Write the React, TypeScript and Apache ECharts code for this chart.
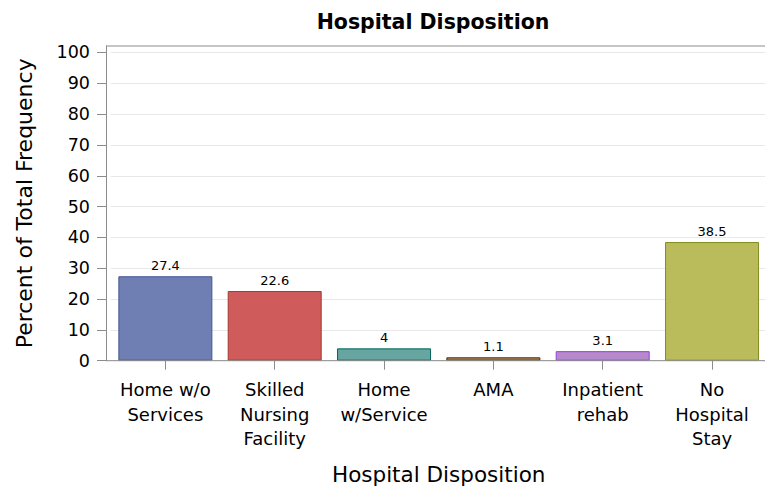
import React, { useEffect, useRef } from "react";
import * as echarts from "echarts";

const categories = [
  "Home w/o\nServices",
  "Skilled\nNursing\nFacility",
  "Home\nw/Service",
  "AMA",
  "Inpatient\nrehab",
  "No\nHospital\nStay",
];
const values = [27.4, 22.6, 4, 1.1, 3.1, 38.5];
const fills = ["#6F7EB3", "#D05B5B", "#66A5A0", "#A9865B", "#B689CD", "#BABC5C"];
const borders = ["#445694", "#A23A2E", "#01665E", "#543005", "#9D3CDB", "#7F8E1F"];
const yTicks = [0, 10, 20, 30, 40, 50, 60, 70, 80, 90, 100];

const FONT = "DejaVu Sans";

export default function App() {
  const ref = useRef<HTMLDivElement>(null);
  useEffect(() => {
    document.body.style.margin = "0";
    if (!ref.current) return;
    const chart = echarts.init(ref.current, undefined, { renderer: "svg" });
    const gridLeft = 110.7;
    const gridTop = 46;
    const gridBottomY = 360.7;
    chart.setOption({
      animation: false,
      backgroundColor: "#fff",
      title: {
        text: "Hospital Disposition",
        left: 428,
        top: 6,
        textAlign: "center",
        textStyle: { fontFamily: FONT, fontSize: 20.5, fontWeight: "bold", color: "#000" },
      },
      grid: {
        left: gridLeft,
        top: gridTop,
        width: 656,
        height: gridBottomY - gridTop,
        containLabel: false,
        outerBoundsMode: "none",
      },
      xAxis: {
        type: "category",
        data: categories,
        axisLine: { show: false },
        axisTick: { show: true, alignWithLabel: true, length: 9, lineStyle: { color: "#8c8c8c" } },
        axisLabel: {
          fontFamily: FONT,
          fontSize: 18,
          lineHeight: 24.5,
          color: "#000",
          margin: 17,
          interval: 0,
        },
        name: "Hospital Disposition",
        nameLocation: "middle",
        nameGap: 103,
        nameTextStyle: { fontFamily: FONT, fontSize: 21.5, color: "#000" },
      },
      yAxis: {
        type: "value",
        min: 0,
        max: 102.1,
        offset: 4.7,
        axisLine: { show: true, lineStyle: { color: "#8c8c8c" } },
        axisTick: { show: true, length: 9, customValues: yTicks, lineStyle: { color: "#8c8c8c" } },
        axisLabel: {
          customValues: yTicks,
          fontFamily: FONT,
          fontSize: 17.5,
          color: "#000",
          margin: 16,
        },
        splitLine: { show: true, lineStyle: { color: "#e8e8e8" } },
        name: "Percent of Total Frequency",
        nameLocation: "middle",
        nameGap: 71,
        nameTextStyle: { fontFamily: FONT, fontSize: 22, color: "#000" },
      },
      graphic: [
        {
          type: "line",
          shape: { x1: 106, y1: gridTop, x2: 765, y2: gridTop },
          style: { stroke: "#8c8c8c", lineWidth: 1 },
          z: 10,
        },
        {
          type: "line",
          shape: { x1: 106, y1: gridBottomY, x2: 765, y2: gridBottomY },
          style: { stroke: "#8c8c8c", lineWidth: 1 },
          z: 10,
        },
      ],
      series: [
        {
          type: "bar",
          barWidth: 94,
          data: values.map((v, i) => ({
            value: v,
            itemStyle: { color: fills[i], borderColor: borders[i], borderWidth: 1 },
          })),
          label: {
            show: true,
            position: "top",
            distance: 4,
            fontFamily: FONT,
            fontSize: 13,
            color: "#000",
          },
        },
      ],
    });
    return () => chart.dispose();
  }, []);
  return <div ref={ref} style={{ width: 765, height: 491 }} />;
}
